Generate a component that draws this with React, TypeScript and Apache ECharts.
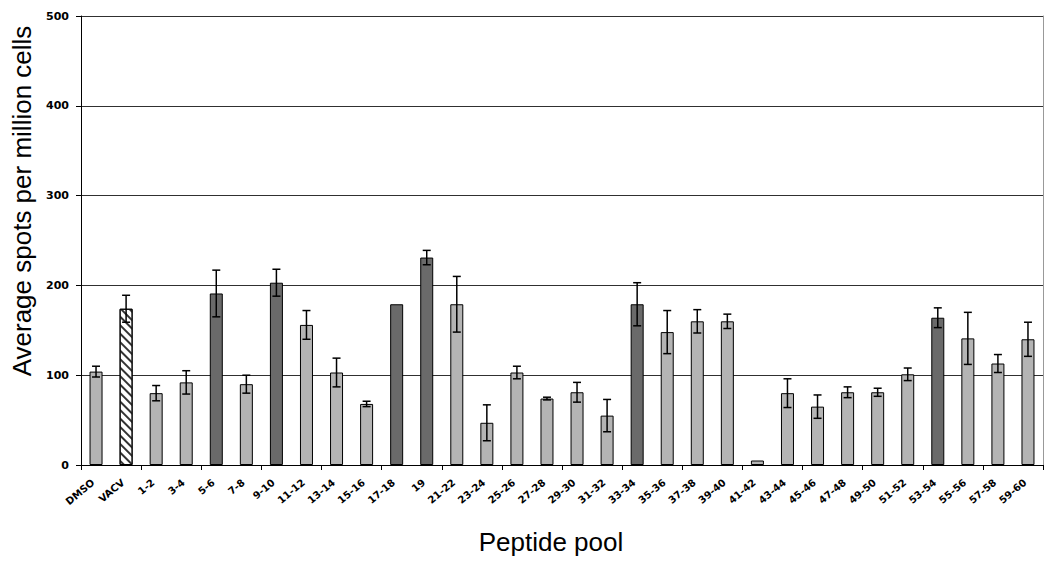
import React, { useEffect, useRef } from "react";
import * as echarts from "echarts";

const categories = ["DMSO","VACV","1-2","3-4","5-6","7-8","9-10","11-12","13-14","15-16","17-18","19","21-22","23-24","25-26","27-28","29-30","31-32","33-34","35-36","37-38","39-40","41-42","43-44","45-46","47-48","49-50","51-52","53-54","55-56","57-58","59-60"];
const means = [104,174,80,92,191,90,203,156,103,68,179,231,179,47,103,74,81,55,179,148,160,160,5,80,65,81,81,101,164,141,113,140];
const errors = [6,15,8.5,13,26,10,15,16,16,3,0,8,31,20,7,1.5,11,18,24,24,13,8,0,16,13,6,4.5,7,11,29,10,19];
const kinds = ["light","hatched","light","light","dark","light","dark","light","light","light","dark","dark","light","light","light","light","light","light","dark","light","light","light","light","light","light","light","light","light","dark","light","light","light"];
const yTicks = [0, 100, 200, 300, 400, 500];
const xTitle = "Peptide pool";
const yTitle = "Average spots per million cells";

const FONT = "Liberation Sans, Arial, sans-serif";
const TICKFONT = "DejaVu Sans, Liberation Sans, sans-serif";
const ROT = (40 * Math.PI) / 180;

function measure(text: string): number {
  const c = document.createElement("canvas");
  const ctx = c.getContext("2d");
  if (!ctx) return text.length * 7;
  ctx.font = "bold 10px " + TICKFONT;
  return ctx.measureText(text).width;
}

export default function App() {
  const ref = useRef<HTMLDivElement>(null);
  useEffect(() => {
    document.body.style.margin = "0";
    const chart = echarts.init(ref.current!, null, { renderer: "svg" });
    const widths = categories.map(measure);
    const barData = means.map((v, i) => {
      const k = kinds[i];
      if (k === "hatched") {
        return {
          value: v,
          itemStyle: {
            color: "#ffffff",
            borderColor: "#000",
            borderWidth: 1,
            decal: {
              symbol: "rect",
              symbolSize: 1,
              color: "#333",
              dashArrayX: [1, 0],
              dashArrayY: [1.8, 3.8],
              rotation: Math.PI / 4,
            },
          },
        };
      }
      return {
        value: v,
        itemStyle: { color: k === "dark" ? "#6a6a6a" : "#b4b4b4", borderColor: "#000", borderWidth: 1 },
      };
    });
    const errData = means
      .map((v, i) => [i, v - errors[i], v + errors[i], errors[i]])
      .filter((d) => d[3] > 0);
    const labelData = categories.map((c, i) => [i, 0]);
    chart.setOption({
      animation: false,
      backgroundColor: "#fff",
      grid: { left: 81, right: 7, top: 16, bottom: 99 },
      xAxis: {
        type: "category",
        data: categories,
        axisLine: { lineStyle: { color: "#000", width: 1 } },
        axisTick: { show: true, length: 5, lineStyle: { color: "#000" } },
        axisLabel: { show: false },
      },
      yAxis: [
        {
          type: "value",
          min: yTicks[0],
          max: yTicks[yTicks.length - 1],
          interval: 100,
          axisLine: { show: true, lineStyle: { color: "#000" } },
          axisTick: { show: true, length: 5, lineStyle: { color: "#000" } },
          axisLabel: {
            fontFamily: TICKFONT,
            fontWeight: "bold",
            fontSize: 11,
            color: "#000",
            margin: 12,
          },
          splitLine: { show: true, lineStyle: { color: "#303030", width: 1 } },
        },
        {
          type: "value",
          position: "right",
          min: yTicks[0],
          max: yTicks[yTicks.length - 1],
          interval: 100,
          axisLine: { show: true, lineStyle: { color: "#999" } },
          axisTick: { show: false },
          axisLabel: { show: false },
          splitLine: { show: false },
        },
      ],
      graphic: [
        {
          type: "text",
          x: 22,
          y: 201,
          rotation: Math.PI / 2,
          style: { text: yTitle, fontFamily: FONT, fontSize: 26, fill: "#000", align: "center", verticalAlign: "middle" },
        },
        {
          type: "text",
          x: 551,
          y: 529,
          style: { text: xTitle, fontFamily: FONT, fontSize: 26, fill: "#000", align: "center", verticalAlign: "top" },
        },
      ],
      series: [
        {
          type: "bar",
          data: barData,
          barWidth: 13,
          yAxisIndex: 0,
        },
        {
          type: "custom",
          yAxisIndex: 0,
          data: errData,
          encode: { x: 0, y: [1, 2] },
          z: 10,
          renderItem: (params: any, api: any) => {
            const x = api.value(0);
            const pLo = api.coord([x, api.value(1)]);
            const pHi = api.coord([x, api.value(2)]);
            const w = 4;
            const st = { stroke: "#000", lineWidth: 1.5 };
            return {
              type: "group",
              children: [
                { type: "line", shape: { x1: pLo[0], y1: pLo[1], x2: pHi[0], y2: pHi[1] }, style: st },
                { type: "line", shape: { x1: pHi[0] - w, y1: pHi[1], x2: pHi[0] + w, y2: pHi[1] }, style: st },
                { type: "line", shape: { x1: pLo[0] - w, y1: pLo[1], x2: pLo[0] + w, y2: pLo[1] }, style: st },
              ],
            };
          },
        },
        {
          type: "custom",
          yAxisIndex: 0,
          data: labelData,
          encode: { x: 0, y: 1 },
          clip: false,
          silent: true,
          renderItem: (params: any, api: any) => {
            const i = api.value(0);
            const p = api.coord([i, 0]);
            const half = widths[i] / 2;
            return {
              type: "text",
              x: p[0] - 3 - half * Math.cos(ROT),
              y: p[1] + 16 + half * Math.sin(ROT),
              rotation: ROT,
              style: {
                text: categories[i],
                fontFamily: TICKFONT,
                fontWeight: "bold",
                fontSize: 10,
                fill: "#000",
                align: "center",
                verticalAlign: "middle",
              },
            };
          },
        },
      ],
    });
    return () => chart.dispose();
  }, []);
  return <div ref={ref} style={{ width: 1050, height: 564 }} />;
}
